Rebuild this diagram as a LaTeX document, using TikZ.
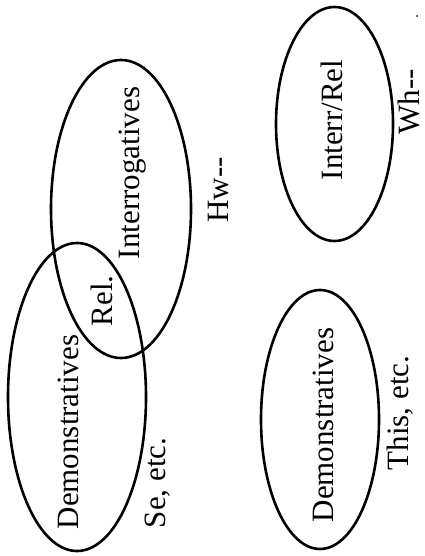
\documentclass[tikz,border=0pt]{standalone}
\usepackage{fontspec}
\setmainfont{Liberation Serif}
\usetikzlibrary{shapes.geometric}
\begin{document}
\begin{tikzpicture}[x=1pt,y=-1pt,
  oval/.style={draw, ellipse, line width=2.6pt, inner sep=0pt},
  lbl/.style={rotate=90, anchor=base, font=\fontsize{31}{31}\selectfont, inner sep=0pt}]
\useasboundingbox (0,0) rectangle (425,556);
% ellipses
\node[oval, minimum width=138pt, minimum height=308pt] (demA) at (77,397) {};
\node[oval, minimum width=140pt, minimum height=298pt] (inter) at (121,209) {};
\node[oval, minimum width=117pt, minimum height=234pt] (interrel) at (334.5,124) {};
\node[oval, minimum width=118pt, minimum height=259pt] (demB) at (320,419.5) {};
% labels
\node[lbl] (tDemA) at (78,432) {Demonstratives};
\node[lbl] (tRel) at (112,301) {Rel.};
\node[lbl] (tInter) at (139,173) {Interrogatives};
\node[lbl] (tHw) at (228,190) {Hw{-}{-}};
\node[lbl] (tInterRel) at (342,120) {Interr/Rel};
\node[lbl] (tWh) at (419,102) {Wh{-}{-}};
\node[lbl] (tSe) at (165,483) {Se, etc.};
\node[lbl] (tDemB) at (333,425) {Demonstratives};
\node[lbl] (tThis) at (408,413) {This, etc.};
\node[circle, fill, inner sep=0pt, minimum size=2pt] (dot) at (417,16) {};
\end{tikzpicture}
\end{document}
